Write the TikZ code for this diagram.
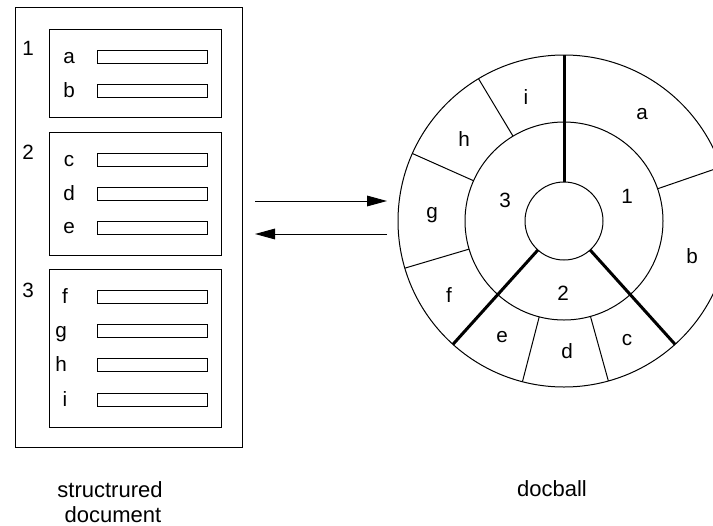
\documentclass[tikz,border=0pt]{standalone}
\usepackage{fontspec}
\setmainfont{Liberation Sans}
\usetikzlibrary{arrows.meta}

\tikzset{every picture/.style={line width=0.75pt}}
\tikzset{
  lbl/.style={anchor=base, inner sep=0pt, font=\fontsize{15.5}{18}\selectfont},
  captxt/.style={anchor=base, inner sep=0pt, font=\fontsize{16.5}{20}\selectfont},
  seam/.style={line width=2.25pt},
  flow/.style={-{Triangle[length=15pt,width=8pt]}},
}

\begin{document}
\begin{tikzpicture}[x=0.75pt,y=0.75pt,yscale=-1,xscale=1]
\useasboundingbox (0,0) rectangle (713,525);

%Shape: Rectangle (document page)
\draw   (15,7) rectangle (242,447) ;
%Shape: Rectangle (section boxes)
\draw   (49,29) rectangle (221,117) ;
\draw   (49,132) rectangle (221,255) ;
\draw   (49,269) rectangle (221,427) ;

%Shape: Rectangle (field bars)
\draw   (97,50) rectangle (207,63) ;
\draw   (97,84) rectangle (207,97) ;
\draw   (97,153) rectangle (207,166) ;
\draw   (97,187) rectangle (207,200) ;
\draw   (97,221) rectangle (207,234) ;
\draw   (97,290) rectangle (207,303) ;
\draw   (97,324) rectangle (207,337) ;
\draw   (97,358) rectangle (207,371) ;
\draw   (97,393) rectangle (207,406) ;

% Text Node
\node [lbl] (sec1) at (28,55) {1};
\node [lbl] (sec2) at (28,159) {2};
\node [lbl] (sec3) at (28,297) {3};
% Text Node
\node [lbl] (fa) at (69,63) {a};
\node [lbl] (fb) at (69,97) {b};
\node [lbl] (fc) at (69,166) {c};
\node [lbl] (fd) at (69,200) {d};
\node [lbl] (fe) at (69,233) {e};
\node [lbl] (ff) at (65,303) {f};
\node [lbl] (fg) at (61,337) {g};
\node [lbl] (fh) at (61,371) {h};
\node [lbl] (fi) at (65,406) {i};

%Straight Lines (arrows)
\coordinate (toBallA) at (255,201);
\coordinate (toBallB) at (387,201);
\coordinate (toDocA) at (387,234);
\coordinate (toDocB) at (255,234);
\draw [flow]   (toBallA) -- (toBallB) ;
\draw [flow]   (toDocA) -- (toDocB) ;

%Shape: Circles (docball rings)
\begin{scope}[shift={(564,221)},yscale=-1]
\draw   (0,0) circle (39) ;
\draw   (0,0) circle (99) ;
\draw   (0,0) circle (166) ;
%Straight Lines (section borders)
\draw [seam]   (90:39) -- (90:166) ;
\draw [seam]   (228:39) -- (228:166) ;
\draw [seam]   (312:39) -- (312:166) ;
%Straight Lines (field borders)
\draw    (19:99) -- (19:166) ;
\draw    (285.5:99) -- (285.5:166) ;
\draw    (255.5:99) -- (255.5:166) ;
\draw    (196.5:99) -- (196.5:166) ;
\draw    (156:99) -- (156:166) ;
\draw    (121:99) -- (121:166) ;
\end{scope}

% Text Node
\node [lbl] (ring1) at (627,203) {1};
\node [lbl] (ring2) at (563,300) {2};
\node [lbl] (ring3) at (505,207) {3};
% Text Node
\node [lbl] (ra) at (642,119) {a};
\node [lbl] (rb) at (692,263) {b};
\node [lbl] (rc) at (627,345) {c};
\node [lbl] (rd) at (567,358) {d};
\node [lbl] (re) at (502,342) {e};
\node [lbl] (rf) at (449,302) {f};
\node [lbl] (rg) at (432,218) {g};
\node [lbl] (rh) at (464,146) {h};
\node [lbl] (ri) at (526,104) {i};

% Text Node
\node [captxt] (capDoc) at (110,497) {structrured};
\node [captxt] (capDoc2) at (113,522) {document};
\node [captxt] (capBall) at (552,496) {docball};

\end{tikzpicture}
\end{document}
